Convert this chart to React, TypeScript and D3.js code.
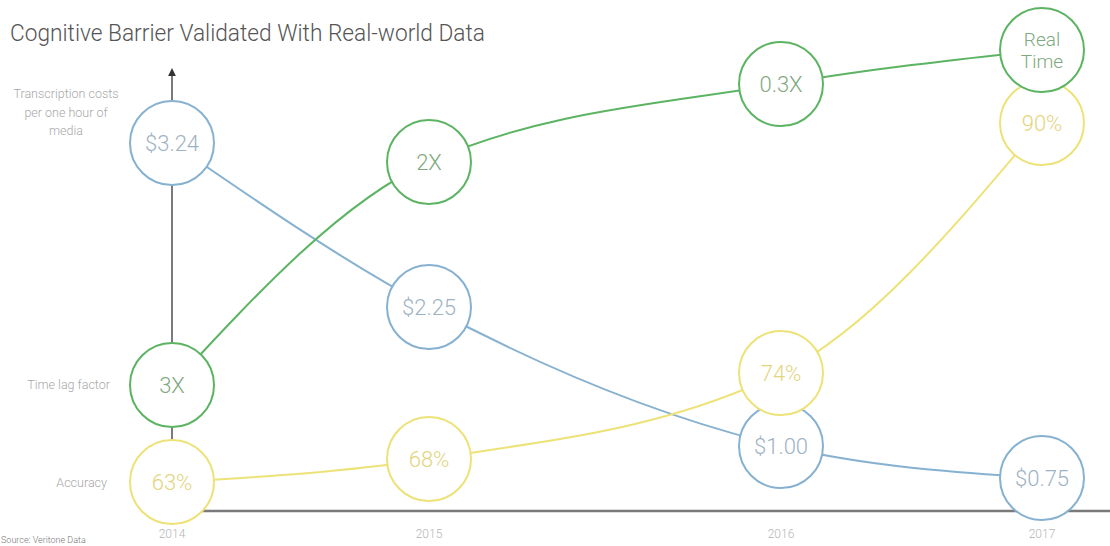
import React from "react";
import * as d3 from "d3";

const years = ["2014", "2015", "2016", "2017"];
const costValues = [3.24, 2.25, 1.0, 0.75];
const costLabels = ["$3.24", "$2.25", "$1.00", "$0.75"];
const timeLagValues = [3, 2, 0.3, 0];
const timeLagLabels = [["3X"], ["2X"], ["0.3X"], ["Real", "Time"]];
const accuracyValues = [63, 68, 74, 90];
const accuracyLabels = ["63%", "68%", "74%", "90%"];

const W = 1110;
const H = 546;
const R = 42;

export default function App() {
  // the x positions in the original are not evenly spaced
  const xPos = d3.scaleOrdinal<string, number>().domain(years).range([172, 429, 781, 1042]);

  // per-series piecewise scales (infographic, not linear)
  const yCost = d3.scaleLinear().domain([0.75, 1.0, 2.25, 3.24]).range([478, 446, 307, 143]);
  const yLag = d3.scaleLinear().domain([0, 0.3, 2, 3]).range([50, 84, 162, 385]);
  const yAcc = d3.scaleLinear().domain([63, 68, 74, 90]).range([482, 459, 373, 123]);

  const line = d3.line<[number, number]>().x((d) => d[0]).y((d) => d[1]).curve(d3.curveMonotoneX);

  const series = [
    {
      name: "cost",
      stroke: "#86b1d0",
      text: "#9db3c4",
      pts: costValues.map((v, i) => [xPos(years[i]), yCost(v)] as [number, number]),
      labels: costLabels.map((l) => [l]),
    },
    {
      name: "acc",
      stroke: "#ede277",
      text: "#e2d57e",
      pts: accuracyValues.map((v, i) => [xPos(years[i]), yAcc(v)] as [number, number]),
      labels: accuracyLabels.map((l) => [l]),
    },
    {
      name: "lag",
      stroke: "#5cb463",
      text: "#7fa980",
      pts: timeLagValues.map((v, i) => [xPos(years[i]), yLag(v)] as [number, number]),
      labels: timeLagLabels,
    },
  ];

  const font = "Roboto, 'Open Sans', sans-serif";

  return (
    <svg
      width={W}
      height={H}
      style={{ position: "absolute", left: 0, top: 0, background: "#fff" }}
      fontFamily={font}
    >
      <defs>
        <marker id="arr" viewBox="0 0 10 10" refX="5" refY="5" markerWidth="6" markerHeight="6" orient="auto">
          <path d="M0,0 L10,5 L0,10 z" fill="#333" />
        </marker>
      </defs>
      <text
        x={10}
        y={41}
        fontSize={23}
        fontWeight={300}
        fill="#555"
        textLength={475}
        lengthAdjust="spacingAndGlyphs"
      >
        Cognitive Barrier Validated With Real-world Data
      </text>

      {/* axes */}
      <line x1={172} y1={490} x2={172} y2={72} stroke="#333" strokeWidth={1.3} markerEnd="url(#arr)" />
      <line x1={172} y1={511} x2={W} y2={511} stroke="#7a7a7a" strokeWidth={2.5} />

      {/* row labels */}
      <g fontSize={12.5} fill="#a8a8a8" fontWeight={300}>
        {["Transcription costs", "per one hour of", "media"].map((t, i) => (
          <text key={t} x={66} y={98 + i * 18.5} textAnchor="middle">
            {t}
          </text>
        ))}
        <text x={110} y={389} textAnchor="end">Time lag factor</text>
        <text x={107} y={487} textAnchor="end">Accuracy</text>
      </g>

      {/* year labels */}
      <g fontSize={12} fill="#b5b5b5" fontWeight={300}>
        {years.map((yr) => (
          <text key={yr} x={xPos(yr)} y={538} textAnchor="middle">
            {yr}
          </text>
        ))}
      </g>
      <text x={1} y={543} fontSize={9} fill="#777" fontWeight={300}>
        Source: Veritone Data
      </text>

      {/* connecting curves */}
      {series.map((s) => (
        <path key={s.name} d={line(s.pts) || ""} fill="none" stroke={s.stroke} strokeWidth={2} />
      ))}

      {/* bubbles */}
      {series.map((s) => (
        <g key={s.name + "c"}>
          {s.pts.map((p, i) => (
            <g key={i} transform={`translate(${p[0]},${p[1]})`}>
              <circle r={R} fill="#fff" stroke={s.stroke} strokeWidth={2} />
              {s.labels[i].length === 1 ? (
                <text y={8} textAnchor="middle" fontSize={22} fontWeight={300} fill={s.text}>
                  {s.labels[i][0]}
                </text>
              ) : (
                s.labels[i].map((t, j) => (
                  <text key={j} y={-4 + j * 22} textAnchor="middle" fontSize={19} fontWeight={300} fill={s.text}>
                    {t}
                  </text>
                ))
              )}
            </g>
          ))}
        </g>
      ))}
    </svg>
  );
}
